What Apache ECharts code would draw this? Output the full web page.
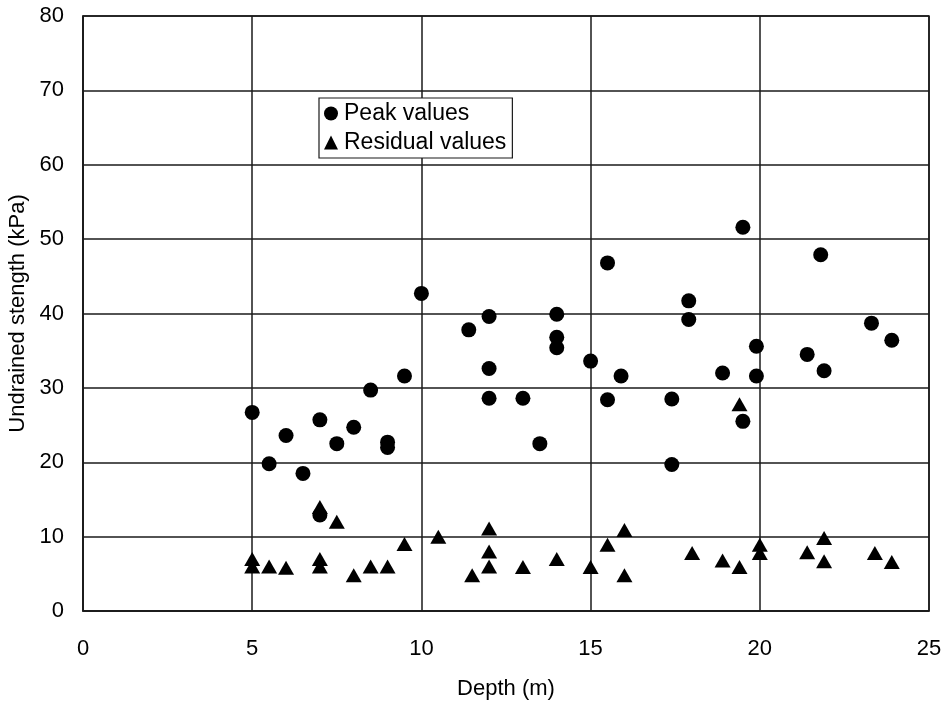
<!DOCTYPE html>
<html>
<head>
<meta charset="utf-8">
<script src="https://cdn.jsdelivr.net/npm/echarts@6/dist/echarts.min.js"></script>
<style>
  html, body { margin: 0; padding: 0; background: #fff; }
  #chart { width: 943px; height: 710px; }
</style>
</head>
<body>
<div id="chart"></div>
<script>
// Peak undrained strength against depth
const peakDepth = [5, 5.5, 6, 6.5, 7, 7, 7.5, 8, 8.5, 9, 9, 9.5, 10, 11.4, 12, 12, 12, 13, 13.5, 14, 14, 14,
  15, 15.5, 15.5, 15.9, 17.4, 17.4, 17.9, 17.9, 18.9, 19.5, 19.5, 19.9, 19.9, 21.4, 21.8, 21.9, 23.3, 23.9];
const peakStrength = [26.7, 19.8, 23.6, 18.5, 25.7, 12.9, 22.5, 24.7, 29.7, 22.7, 22.0, 31.6, 42.7, 37.8, 39.6, 32.6, 28.6, 28.6, 22.5, 39.9, 36.8, 35.4,
  33.6, 46.8, 28.4, 31.6, 28.5, 19.7, 41.7, 39.2, 32.0, 51.6, 25.5, 35.6, 31.6, 34.5, 47.9, 32.3, 38.7, 36.4];

// Residual undrained strength against depth
const residualDepth = [5, 5, 5.5, 6, 7, 7, 7, 7.5, 8, 8.5, 9, 9.5, 10.5, 11.5, 12, 12, 12, 13, 14, 15, 15.5,
  16, 16, 18, 18.9, 19.4, 19.4, 20, 20, 21.4, 21.9, 21.9, 23.4, 23.9];
const residualStrength = [7, 6, 6, 5.8, 14, 7, 6, 12, 4.8, 6, 6, 9, 10, 4.8, 11.1, 8, 6, 5.9, 7, 5.9, 8.9,
  10.9, 4.8, 7.8, 6.8, 5.9, 27.8, 8.9, 7.8, 7.9, 9.8, 6.7, 7.8, 6.6];

const xTicks = [0, 25, 5];   // min, max, interval
const yTicks = [0, 80, 10];

const pairs = (xs, ys) => xs.map((x, i) => [x, ys[i]]);

const font = 'Liberation Sans, Arial, sans-serif';
const ink = '#000';
const lineCol = '#1a1a1a';

const chart = echarts.init(document.getElementById('chart'));
chart.setOption({
  animation: false,
  backgroundColor: '#fff',
  textStyle: { fontFamily: font, color: ink },
  grid: {
    left: 83, right: 14, top: 16, bottom: 99,
    containLabel: false,
    outerBoundsMode: 'none',
    show: true, borderColor: lineCol, borderWidth: 1.5
  },
  legend: {
    orient: 'vertical',
    left: 319, top: 98,
    backgroundColor: '#fff',
    borderColor: lineCol, borderWidth: 1.2,
    padding: [4, 6, 4, 5],
    itemWidth: 14, itemHeight: 14, itemGap: 6,
    textStyle: { fontFamily: font, fontSize: 23, color: ink, padding: [0, 0, 0, 1] },
    data: [
      { name: 'Peak values', icon: 'circle' },
      { name: 'Residual values', icon: 'triangle' }
    ]
  },
  xAxis: {
    type: 'value',
    min: xTicks[0], max: xTicks[1], interval: xTicks[2],
    name: 'Depth (m)', nameLocation: 'middle', nameGap: 67,
    nameTextStyle: { fontFamily: font, fontSize: 22, color: ink },
    axisLine: { show: true, lineStyle: { color: lineCol, width: 1.5 } },
    axisTick: { show: false },
    axisLabel: { margin: 27, fontFamily: font, fontSize: 22, color: ink },
    splitLine: { show: true, lineStyle: { color: lineCol, width: 1.5 } }
  },
  yAxis: {
    type: 'value',
    min: yTicks[0], max: yTicks[1], interval: yTicks[2],
    name: 'Undrained stength (kPa)', nameLocation: 'middle', nameGap: 52,
    nameTextStyle: { fontFamily: font, fontSize: 22, color: ink },
    axisLine: { show: true, lineStyle: { color: lineCol, width: 1.5 } },
    axisTick: { show: false },
    axisLabel: { margin: 19, fontFamily: font, fontSize: 22, color: ink },
    splitLine: { show: true, lineStyle: { color: lineCol, width: 1.5 } }
  },
  series: [
    {
      name: 'Peak values',
      type: 'scatter',
      symbol: 'circle',
      symbolSize: 15,
      itemStyle: { color: ink, opacity: 1 },
      data: pairs(peakDepth, peakStrength)
    },
    {
      name: 'Residual values',
      type: 'scatter',
      symbol: 'triangle',
      symbolSize: [16, 14],
      itemStyle: { color: ink, opacity: 1 },
      data: pairs(residualDepth, residualStrength)
    }
  ]
});
</script>
</body>
</html>
